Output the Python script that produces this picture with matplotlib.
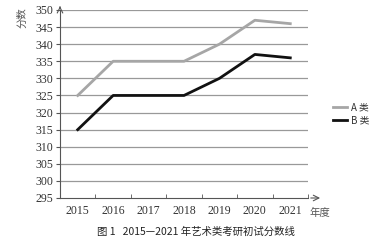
import numpy as np
import matplotlib.pyplot as plt
from matplotlib.ticker import FixedLocator

# Datos
years = ['2015', '2016', '2017', '2018', '2019', '2020', '2021']
a_scores = [325, 335, 335, 335, 340, 347, 346]
b_scores = [315, 325, 325, 325, 330, 337, 336]
y_ticks = list(range(295, 351, 5))

cjk = ['Noto Sans CJK SC', 'DejaVu Sans']
serif = 'Liberation Serif'

fig = plt.figure(figsize=(3.92, 2.4), dpi=100)
ax = fig.add_axes([60 / 392, 1 - 198 / 240, 248 / 392, 188 / 240])

x = np.arange(len(years))
ax.plot(x, a_scores, color='#a6a6a6', lw=2, label='A 类')
ax.plot(x, b_scores, color='#111111', lw=2, label='B 类')

ax.set_xlim(-0.5, len(years) - 0.5)
ax.set_ylim(295, 350)
ax.set_yticks(y_ticks)
ax.set_yticklabels([str(v) for v in y_ticks], fontfamily=serif, fontsize=8.5, color='#333333')
ax.set_xticks(x)
ax.set_xticklabels(years, fontfamily=serif, fontsize=8.5, color='#333333')
ax.xaxis.set_minor_locator(FixedLocator(np.arange(-0.5, len(years), 1)))
ax.tick_params(axis='x', which='major', length=0, pad=5)
ax.tick_params(axis='x', which='minor', length=3, direction='in', color='#555555')
ax.tick_params(axis='y', length=3, direction='out', color='#555555', pad=2)

for v in y_ticks[1:]:
    ax.axhline(v, color='#999999', lw=0.9, zorder=0)

for s in ['top', 'right']:
    ax.spines[s].set_visible(False)
for s in ['left', 'bottom']:
    ax.spines[s].set_color('#555555')
    ax.spines[s].set_linewidth(0.8)

# flechas de los ejes
ax.annotate('', xy=(0, 1.035), xytext=(0, 1.0), xycoords='axes fraction',
            arrowprops=dict(arrowstyle='->', color='#555555', lw=0.8), annotation_clip=False)
ax.annotate('', xy=(1.06, 0), xytext=(1.0, 0), xycoords='axes fraction',
            arrowprops=dict(arrowstyle='->', color='#555555', lw=0.8), annotation_clip=False)

fig.text(22 / 392, 1 - 18 / 240, '分数', rotation=90, ha='center', va='center',
         fontsize=7.5, family=cjk, color='#555555')
fig.text(320 / 392, 1 - 213 / 240, '年度', ha='center', va='center',
         fontsize=7.5, family=cjk, color='#555555')

leg = ax.legend(loc='upper left', bbox_to_anchor=(328 / 392, 1 - 98 / 240),
                bbox_transform=fig.transFigure, frameon=False, handlelength=1.5,
                handletextpad=0.4, labelspacing=0.3, borderpad=0,
                prop={'family': cjk, 'size': 7})
for t in leg.get_texts():
    t.set_color('#333333')

fig.text(196 / 392, 1 - 232 / 240, '图 1   2015—2021 年艺术类考研初试分数线', ha='center',
         va='center', fontsize=7.5, family=cjk, color='#222222', fontweight='medium')

plt.savefig('out.png', dpi=100)
